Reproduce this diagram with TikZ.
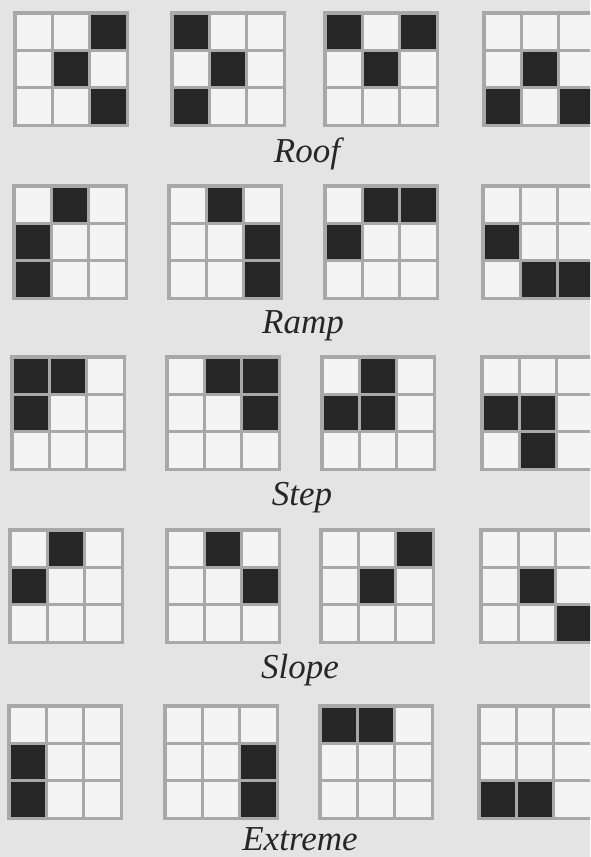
\documentclass[tikz,border=0pt]{standalone}
\usepackage{fontspec}
\setmainfont{Liberation Serif}
\usepackage{xcolor}
\definecolor{fundo}{RGB}{228,228,228}
\definecolor{linha}{RGB}{168,168,168}
\definecolor{branco}{RGB}{244,244,244}
\definecolor{preto}{RGB}{38,38,38}
\usepackage{tikz}

% one 3x3 pattern: #1,#2 top left corner, #3 list of dark cells col/row
\newcommand{\padrao}[3]{%
  \fill[linha] (#1,#2) rectangle ++(116,116);
  \foreach \r in {0,1,2}{
    \foreach \c in {0,1,2}{
      \fill[branco] ({#1+3.5+\c*37.17},{#2+3.5+\r*37.17}) rectangle ++(34.7,34.7);
    }
  }
  \foreach \c/\r in {#3}{
    \fill[preto] ({#1+3.5+\c*37.17},{#2+3.5+\r*37.17}) rectangle ++(34.7,34.7);
  }
}

\begin{document}
\begin{tikzpicture}[x=1pt,y=-1pt,
  rotulo/.style={anchor=base, inner sep=0pt,
    font=\fontsize{35}{40}\selectfont\itshape, text=preto}]
  \useasboundingbox (0,0) rectangle (590,857);
  \clip (0,0) rectangle (590,857);
  \fill[fundo] (0,0) rectangle (590,857);

  % Roof
  \padrao{13}{11}{2/0,1/1,2/2}
  \padrao{170}{11}{0/0,1/1,0/2}
  \padrao{323}{11}{0/0,2/0,1/1}
  \padrao{482}{11}{1/1,0/2,2/2}
  \node[rotulo] (roof) at (307,162) {Roof};

  % Ramp
  \padrao{12}{184}{1/0,0/1,0/2}
  \padrao{167}{184}{1/0,2/1,2/2}
  \padrao{323}{184}{1/0,2/0,0/1}
  \padrao{481}{184}{0/1,1/2,2/2}
  \node[rotulo] (ramp) at (303,333) {Ramp};

  % Step
  \padrao{10}{355}{0/0,1/0,0/1}
  \padrao{165}{355}{1/0,2/0,2/1}
  \padrao{320}{355}{1/0,0/1,1/1}
  \padrao{480}{355}{0/1,1/1,1/2}
  \node[rotulo] (step) at (302,505) {Step};

  % Slope
  \padrao{8}{528}{1/0,0/1}
  \padrao{165}{528}{1/0,2/1}
  \padrao{319}{528}{2/0,1/1}
  \padrao{479}{528}{1/1,2/2}
  \node[rotulo] (slope) at (300,678) {Slope};

  % Extreme
  \padrao{7}{704}{0/1,0/2}
  \padrao{163}{704}{2/1,2/2}
  \padrao{318}{704}{0/0,1/0}
  \padrao{477}{704}{0/2,1/2}
  \node[rotulo] (extreme) at (300,850) {Extreme};
\end{tikzpicture}
\end{document}
